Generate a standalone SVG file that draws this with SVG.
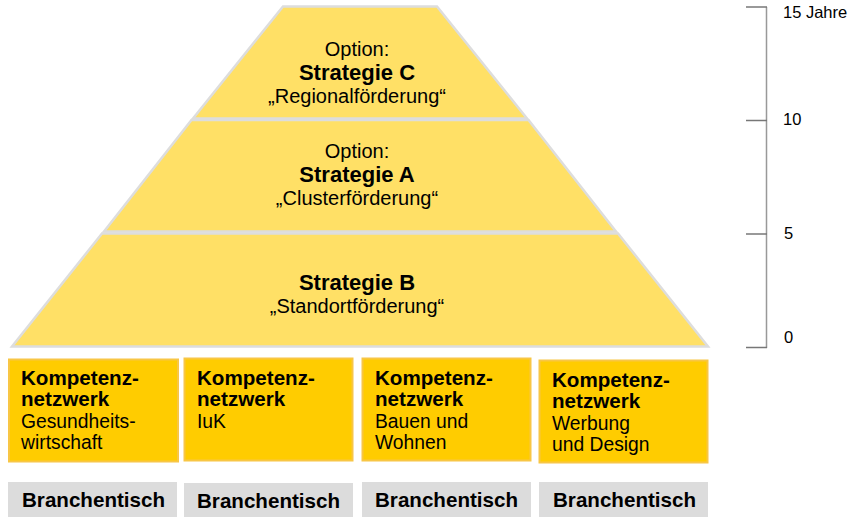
<svg xmlns="http://www.w3.org/2000/svg" width="850" height="517" viewBox="0 0 850 517">
<style>
.band{fill:#FFE066;stroke:#DDDDDD;stroke-width:2.5;stroke-linejoin:miter}
.t{font-family:"Liberation Sans",Arial,sans-serif;fill:#000}
.r{font-size:20px}
.b{font-size:22px;font-weight:bold}
.kn{fill:#FFCC00;stroke:#F8C645;stroke-width:2}
.bt{fill:#DCDCDC}
.kb{font-size:20.6px;font-weight:bold}
.kr{font-size:19.3px}
.ax{stroke:#999999;stroke-width:1.5;fill:none}
.tk{stroke:#777777;stroke-width:1.5}
.s{font-size:16.5px}
</style>
<g id="strategie-c">
<polygon class="band" points="283,6.5 437,6.5 527,118.5 193,118.5"/>
<text class="t r" x="357" y="56" text-anchor="middle">Option:</text>
<text class="t b" x="357" y="80" text-anchor="middle">Strategie C</text>
<text class="t r" x="357" y="103" text-anchor="middle">„Regionalförderung“</text>
</g>
<g id="strategie-a">
<polygon class="band" points="191.5,120 528.5,120 616,231.5 104,231.5"/>
<text class="t r" x="357" y="158" text-anchor="middle">Option:</text>
<text class="t b" x="357" y="182" text-anchor="middle">Strategie A</text>
<text class="t r" x="357" y="205" text-anchor="middle">„Clusterförderung“</text>
</g>
<g id="strategie-b">
<polygon class="band" points="102,233.5 618,233.5 708,346.5 12,346.5"/>
<text class="t b" x="357" y="290" text-anchor="middle">Strategie B</text>
<text class="t r" x="357" y="313" text-anchor="middle">„Standortförderung“</text>
</g>
<g id="zeitachse">
<line class="ax" x1="766.5" y1="7" x2="766.5" y2="348"/>
<line class="tk" x1="746" y1="7" x2="767" y2="7"/>
<line class="tk" x1="746" y1="120.5" x2="767" y2="120.5"/>
<line class="tk" x1="746" y1="234" x2="767" y2="234"/>
<line class="tk" x1="746" y1="347.5" x2="767" y2="347.5"/>
<text class="t s" x="783" y="18">15 Jahre</text>
<text class="t s" x="783" y="125">10</text>
<text class="t s" x="784" y="239">5</text>
<text class="t s" x="784" y="343">0</text>
</g>
<g id="kn-gesundheit">
<rect class="kn" x="9" y="359.5" width="169" height="102"/>
<text class="t kb" x="21" y="385">Kompetenz-</text>
<text class="t kb" x="21" y="406">netzwerk</text>
<text class="t kr" x="21" y="428">Gesundheits-</text>
<text class="t kr" x="21" y="449">wirtschaft</text>
</g>
<g id="kn-iuk">
<rect class="kn" x="184.5" y="358.5" width="168" height="102"/>
<text class="t kb" x="197" y="385">Kompetenz-</text>
<text class="t kb" x="197" y="406">netzwerk</text>
<text class="t kr" x="197" y="428">IuK</text>
</g>
<g id="kn-bauen">
<rect class="kn" x="362.5" y="358.5" width="168" height="102"/>
<text class="t kb" x="375" y="385">Kompetenz-</text>
<text class="t kb" x="375" y="406">netzwerk</text>
<text class="t kr" x="375" y="428">Bauen und</text>
<text class="t kr" x="375" y="449">Wohnen</text>
</g>
<g id="kn-werbung">
<rect class="kn" x="539.5" y="360.5" width="168" height="102"/>
<text class="t kb" x="552" y="387">Kompetenz-</text>
<text class="t kb" x="552" y="408">netzwerk</text>
<text class="t kr" x="552" y="430">Werbung</text>
<text class="t kr" x="552" y="451">und Design</text>
</g>
<g id="bt-1">
<rect class="bt" x="8" y="482" width="169" height="35"/>
<text class="t kb" x="22" y="507">Branchentisch</text>
</g>
<g id="bt-2">
<rect class="bt" x="184" y="483" width="169" height="34"/>
<text class="t kb" x="197" y="508">Branchentisch</text>
</g>
<g id="bt-3">
<rect class="bt" x="362" y="482" width="169" height="35"/>
<text class="t kb" x="375" y="507">Branchentisch</text>
</g>
<g id="bt-4">
<rect class="bt" x="539" y="482" width="169" height="35"/>
<text class="t kb" x="553" y="507">Branchentisch</text>
</g>
<g id="connectors"></g>
</svg>
